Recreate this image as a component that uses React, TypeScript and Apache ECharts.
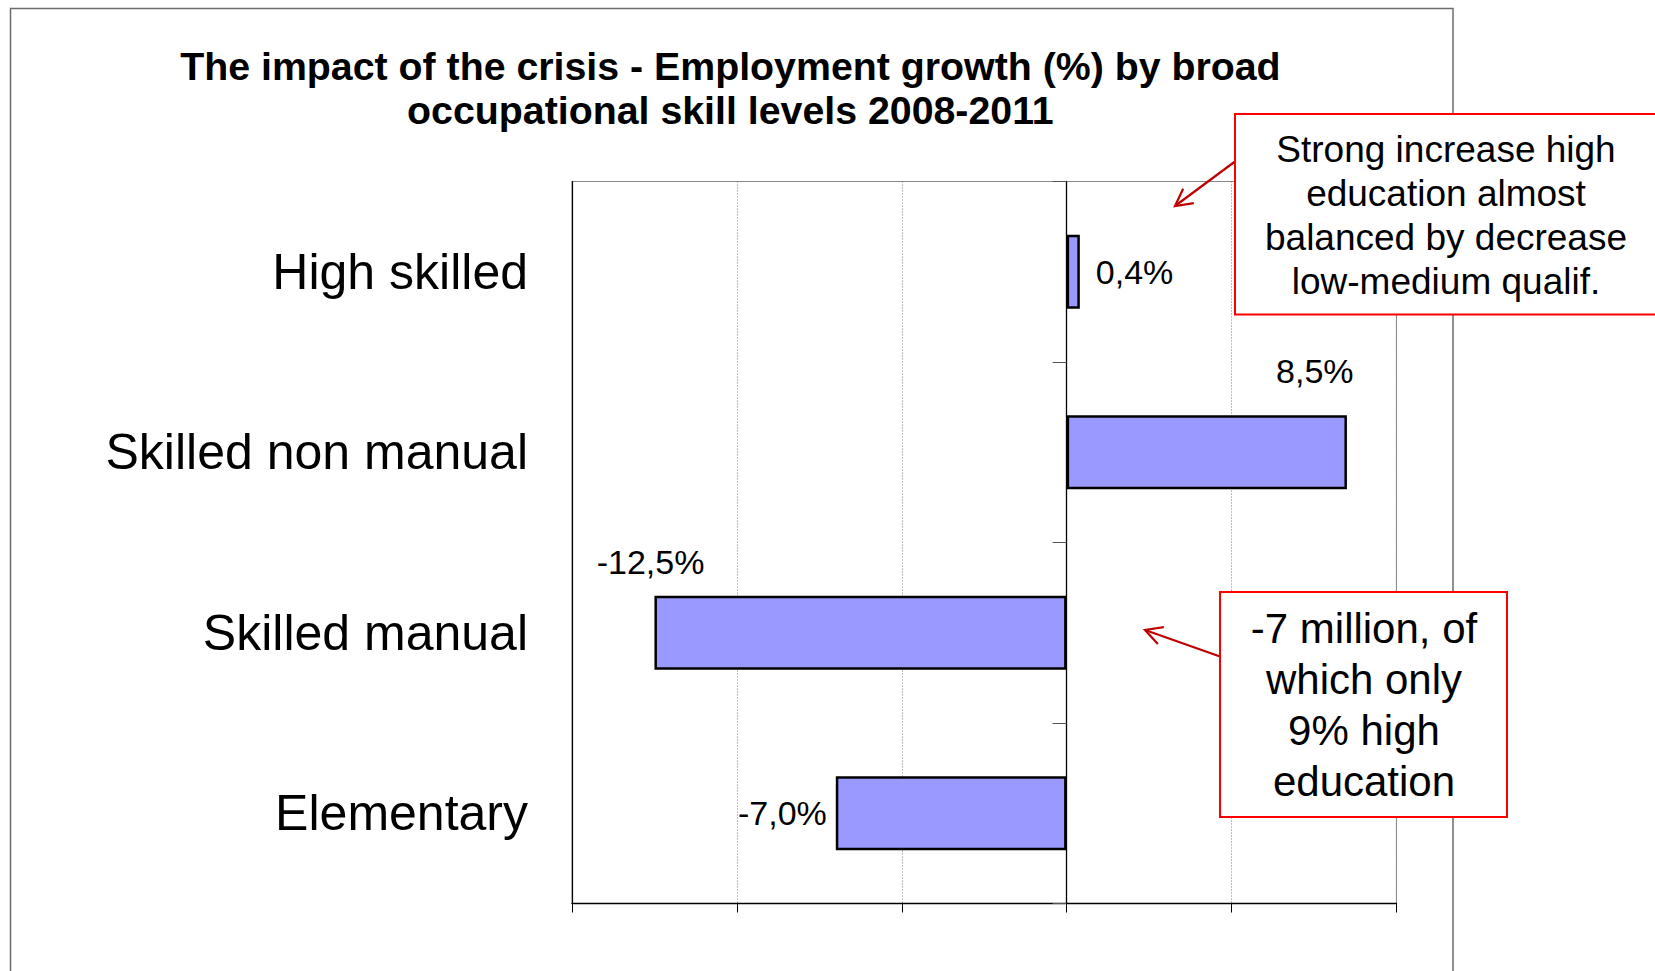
import React, { useEffect, useRef } from "react";
import * as echarts from "echarts";

const categories = ["High skilled", "Skilled non manual", "Skilled manual", "Elementary"];
const growthValues = [0.4, 8.5, -12.5, -7.0];
const axisMin = -15;
const axisMax = 10;
const axisStep = 5;
const titleLines = [
  "The impact of the crisis - Employment growth (%) by broad",
  "occupational skill levels 2008-2011",
];
const noteHighLines = ["Strong increase high", "education almost", "balanced by decrease", "low-medium qualif."];
const noteLowLines = ["-7 million, of", "which only", "9% high", "education"];

const FONT = "'Liberation Sans', Arial, Helvetica, sans-serif";

// label placement per category (layout only)
const labelLayout: any[] = [
  { position: "right", distance: 16 },
  { position: "top", distance: 5, offset: [108, -22] },
  { position: "top", distance: 5, offset: [-210, -12] },
  { position: "left", distance: 9 },
];

function arrow(x1: number, y1: number, x2: number, y2: number, color: string) {
  const dx = x2 - x1;
  const dy = y2 - y1;
  const len = Math.sqrt(dx * dx + dy * dy);
  const ux = dx / len;
  const uy = dy / len;
  const wing = 19;
  const ang = (28 * Math.PI) / 180;
  const c = Math.cos(ang);
  const s = Math.sin(ang);
  const w1 = [x2 - wing * (ux * c - uy * s), y2 - wing * (uy * c + ux * s)];
  const w2 = [x2 - wing * (ux * c + uy * s), y2 - wing * (uy * c - ux * s)];
  return [
    { type: "line", shape: { x1, y1, x2, y2 }, style: { stroke: color, lineWidth: 2.2 } },
    { type: "polyline", shape: { points: [w1, [x2, y2], w2] }, style: { stroke: color, lineWidth: 2.2, fill: null } },
  ];
}

export default function App() {
  const ref = useRef<HTMLDivElement>(null);
  useEffect(() => {
    if (!ref.current) return;
    const chart = echarts.init(ref.current, undefined, { renderer: "svg" });
    const data = growthValues.map((v, i) => ({
      value: v,
      label: { show: true, ...labelLayout[i] },
    }));
    const option: any = {
      animation: false,
      backgroundColor: "#ffffff",
      title: {
        text: titleLines.join("\n"),
        left: 692 * (1655 / 1568),
        top: 44,
        padding: 0,
        textAlign: "center",
        textStyle: { fontFamily: FONT, fontSize: 39.3, fontWeight: "bold", color: "#000", lineHeight: 44 },
      },
      grid: {
        left: 572,
        right: 258.6,
        top: 181.5,
        bottom: 67.5,
        show: true,
        borderColor: "#8a8a8a",
        borderWidth: 1,
        containLabel: false,
      },
      xAxis: {
        type: "value",
        min: axisMin,
        max: axisMax,
        interval: axisStep,
        axisLabel: { show: false },
        axisLine: { show: true, onZero: false, lineStyle: { color: "#000", width: 1.3 } },
        axisTick: { show: true, length: 9, lineStyle: { color: "#000", width: 1 } },
        splitLine: { show: true, lineStyle: { color: "#7a7a7a", type: [1, 2], width: 1 } },
      },
      yAxis: [
        {
          type: "category",
          data: categories,
          inverse: true,
          position: "left",
          axisLine: { show: true, onZero: false, lineStyle: { color: "#000", width: 1.2 } },
          axisTick: { show: false },
          axisLabel: { show: true, fontFamily: FONT, fontSize: 50, color: "#000", margin: 44 },
          splitLine: { show: false },
        },
        {
          type: "category",
          data: categories,
          inverse: true,
          position: "right",
          axisLine: { show: true, onZero: true, lineStyle: { color: "#000", width: 1.3 } },
          axisTick: { show: true, inside: true, length: 14, lineStyle: { color: "#555", width: 1 } },
          axisLabel: { show: false },
          splitLine: { show: false },
        },
      ],
      series: [
        {
          type: "bar",
          yAxisIndex: 0,
          data,
          barWidth: "41%",
          itemStyle: { color: "#9999FF", borderColor: "#000", borderWidth: 2.5 },
          label: {
            show: true,
            fontFamily: FONT,
            fontSize: 34,
            color: "#000",
            formatter: (p: any) => p.value.toFixed(1).replace(".", ",") + "%",
          },
        },
      ],
      graphic: [
        {
          type: "rect",
          shape: { x: 10.5, y: 8.5, width: 1442.5, height: 980 },
          style: { fill: null, stroke: "#6b6b6b", lineWidth: 1.5 },
          silent: true,
          z: -10,
        },
        ...arrow(1235, 161.5, 1175, 206, "#C00000"),
        ...arrow(1220, 656.5, 1145, 630, "#C00000"),
        {
          type: "rect",
          shape: { x: 1235, y: 114, width: 460, height: 200.5 },
          style: { fill: "#fff", stroke: "#FF0000", lineWidth: 2 },
          z: 50,
        },
        {
          type: "text",
          x: 1446,
          y: 215.5,
          z: 51,
          style: {
            text: noteHighLines.join("\n"),
            fontFamily: FONT,
            fontSize: 37,
            lineHeight: 44.3,
            fill: "#000",
            align: "center",
            verticalAlign: "middle",
          },
        },
        {
          type: "rect",
          shape: { x: 1220, y: 592, width: 287, height: 225 },
          style: { fill: "#fff", stroke: "#FF0000", lineWidth: 2 },
          z: 50,
        },
        {
          type: "text",
          x: 1364,
          y: 705,
          z: 51,
          style: {
            text: noteLowLines.join("\n"),
            fontFamily: FONT,
            fontSize: 42,
            lineHeight: 51.3,
            fill: "#000",
            align: "center",
            verticalAlign: "middle",
          },
        },
      ],
    };
    chart.setOption(option);
    return () => chart.dispose();
  }, []);
  return (
    <div
      ref={ref}
      style={{ position: "fixed", left: 0, top: 0, width: 1655, height: 971, background: "#fff" }}
    />
  );
}
